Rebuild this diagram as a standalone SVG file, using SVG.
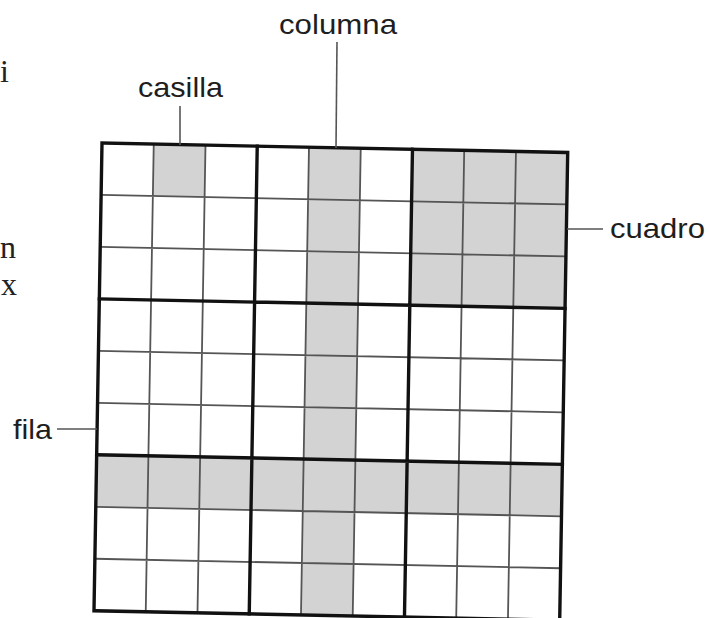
<svg xmlns="http://www.w3.org/2000/svg" width="710" height="618" viewBox="0 0 710 618">
  <style>
    .shade { fill: #d3d3d3; stroke: none; }
    .thin { stroke: #555; stroke-width: 1.8; fill: none; }
    .thick { stroke: #111; stroke-width: 3.4; fill: none; stroke-linecap: square; }
    .label { font-family: "Liberation Sans", Arial, sans-serif; font-size: 28px; fill: #1e1e1e; }
    .leader { stroke: #555; stroke-width: 1.6; fill: none; }
    .frag { font-family: "Liberation Serif", "Times New Roman", serif; font-size: 32px; fill: #222; }
  </style>
  <rect width="710" height="618" fill="#ffffff"/>

  <g id="page-fragments">
    <text class="frag" x="0" y="82">i</text>
    <text class="frag" x="0" y="258">n</text>
    <text class="frag" x="1" y="295">x</text>
  </g>

  <g id="grid" transform="matrix(0.9951 0.0203 -0.0171 0.9994 102 143)">
    <g id="shading">
      <rect class="shade" x="52" y="0" width="52" height="52"/>
      <rect class="shade" x="208" y="0" width="52" height="468"/>
      <rect class="shade" x="312" y="0" width="156" height="156"/>
      <rect class="shade" x="0" y="312" width="468" height="52"/>
    </g>
    <g id="thin-lines">
      <path class="thin" d="M52 0V468M104 0V468M208 0V468M260 0V468M364 0V468M416 0V468M0 52H468M0 104H468M0 208H468M0 260H468M0 364H468M0 416H468"/>
    </g>
    <g id="thick-lines">
      <path class="thick" d="M156 0V468M312 0V468M0 156H468M0 312H468"/>
      <rect class="thick" x="0" y="0" width="468" height="468"/>
    </g>
  </g>

  <g id="label-columna"><text class="label" x="279" y="34" textLength="118" lengthAdjust="spacingAndGlyphs">columna</text></g>
  <g id="label-casilla"><text class="label" x="138" y="97" textLength="85" lengthAdjust="spacingAndGlyphs">casilla</text></g>
  <g id="label-cuadro"><text class="label" x="610" y="238" textLength="95" lengthAdjust="spacingAndGlyphs">cuadro</text></g>
  <g id="label-fila"><text class="label" x="13" y="439" textLength="39" lengthAdjust="spacingAndGlyphs">fila</text></g>

  <g id="connectors">
    <line class="leader" x1="180" y1="106" x2="180" y2="145"/>
    <line class="leader" x1="337" y1="42" x2="336" y2="148"/>
    <line class="leader" x1="567" y1="229" x2="603" y2="229"/>
    <line class="leader" x1="57" y1="429" x2="97" y2="429"/>
  </g>
</svg>
